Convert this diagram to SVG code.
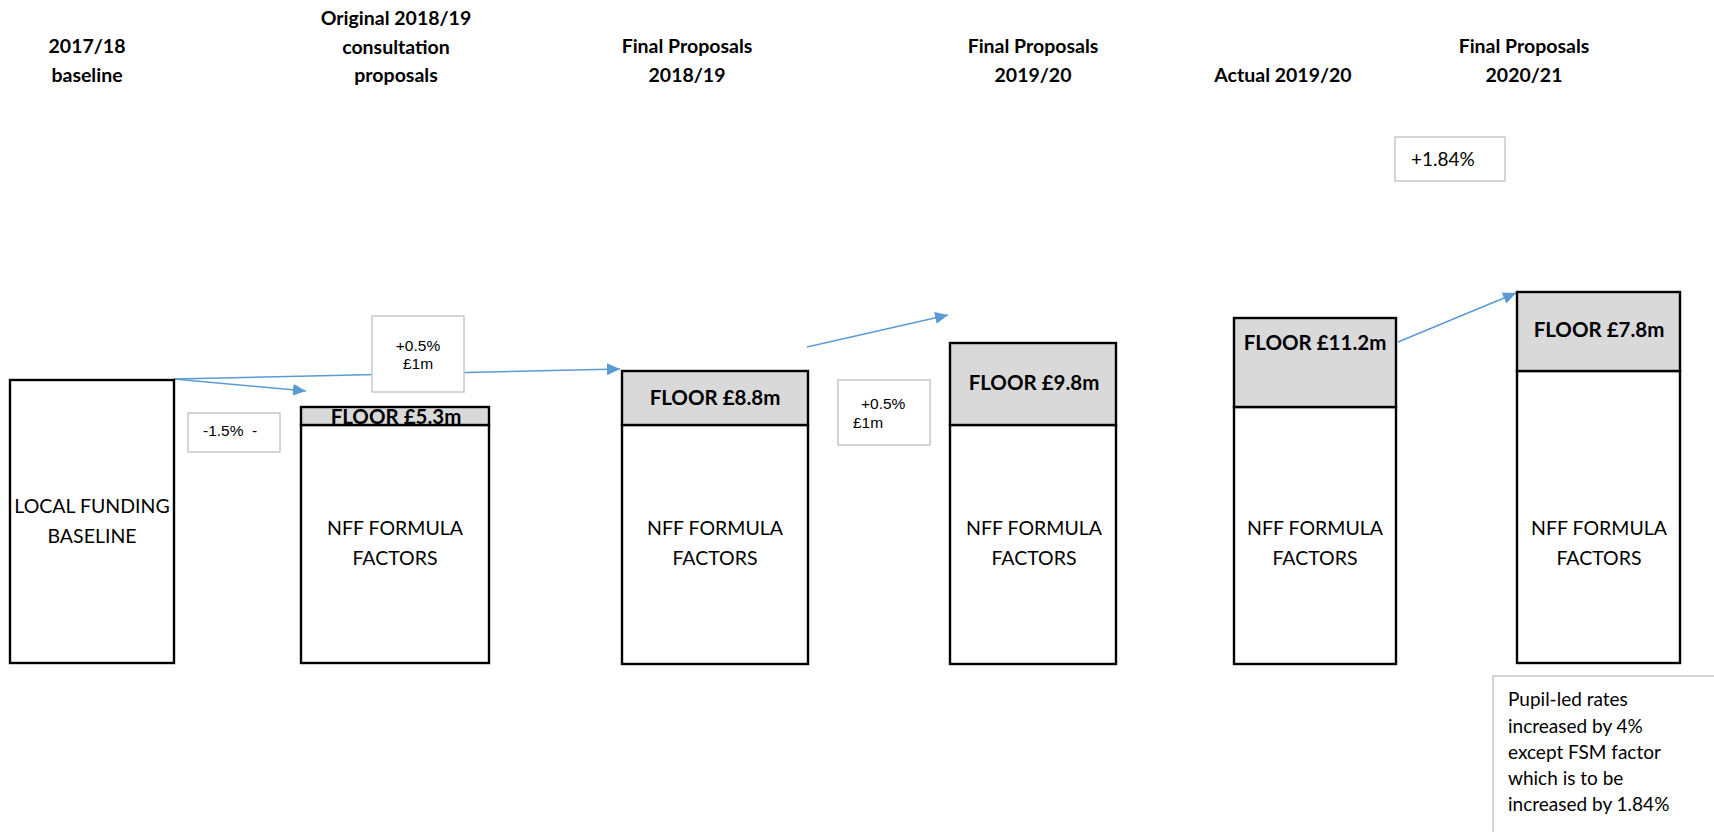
<svg xmlns="http://www.w3.org/2000/svg" width="1714" height="832" viewBox="0 0 1714 832">
<defs>
<marker id="arr" markerUnits="userSpaceOnUse" markerWidth="14" markerHeight="12" refX="13" refY="6" orient="auto"><path d="M0,0 L13,6 L0,12 z" fill="#5b9bd5"/></marker>
<style>
.hdr{font-family:Lato,"Liberation Sans",sans-serif;font-weight:bold;font-size:19.5px;fill:#000;text-anchor:middle}
.body{font-family:Lato,"Liberation Sans",sans-serif;font-size:19.5px;fill:#000;text-anchor:middle}
.floor{font-family:Lato,"Liberation Sans",sans-serif;font-weight:bold;font-size:20.5px;fill:#000;text-anchor:middle}
.lbl{font-family:"Liberation Sans",Arial,sans-serif;font-size:15.5px;fill:#000}
.bar{fill:#fff;stroke:#000;stroke-width:2.4}
.fl{fill:#d9d9d9;stroke:#000;stroke-width:2.4}
.lb{fill:#fff;stroke:#c8c8c8;stroke-width:1.5}
.con{stroke:#5b9bd5;stroke-width:1.5;fill:none}
.note{font-family:Lato,"Liberation Sans",sans-serif;font-size:19px;fill:#000}
</style>
</defs>
<rect width="1714" height="832" fill="#fff"/>
<g id="headers">
<text class="hdr" x="87" y="53">2017/18</text>
<text class="hdr" x="87" y="82">baseline</text>
<text class="hdr" x="396" y="25">Original 2018/19</text>
<text class="hdr" x="396" y="54">consultation</text>
<text class="hdr" x="396" y="82">proposals</text>
<text class="hdr" x="687" y="53">Final Proposals</text>
<text class="hdr" x="687" y="82">2018/19</text>
<text class="hdr" x="1033" y="53">Final Proposals</text>
<text class="hdr" x="1033" y="82">2019/20</text>
<text class="hdr" x="1283" y="82">Actual 2019/20</text>
<text class="hdr" x="1524" y="53">Final Proposals</text>
<text class="hdr" x="1524" y="82">2020/21</text>
</g>
<g id="connectors">
<line class="con" x1="174" y1="379" x2="306" y2="391" marker-end="url(#arr)"/>
<line class="con" x1="174" y1="379" x2="620" y2="369" marker-end="url(#arr)"/>
<line class="con" x1="807" y1="347" x2="948" y2="315" marker-end="url(#arr)"/>
<line class="con" x1="1398" y1="342" x2="1516" y2="293" marker-end="url(#arr)"/>
</g>
<g id="bar-baseline">
<rect class="bar" x="10" y="380" width="164" height="283"/>
<text class="body" x="92" y="513">LOCAL FUNDING</text>
<text class="body" x="92" y="543">BASELINE</text>
</g>
<g id="bar-consultation">
<rect class="bar" x="301" y="425" width="188" height="238"/>
<rect fill="#d9d9d9" x="301" y="407" width="188" height="18"/>
<text class="floor" x="396" y="424">FLOOR £5.3m</text>
<rect fill="none" stroke="#000" stroke-width="2.4" x="301" y="407" width="188" height="18"/>
<text class="body" x="395" y="535">NFF FORMULA</text>
<text class="body" x="395" y="565">FACTORS</text>
</g>
<g id="bar-final-1819">
<rect class="bar" x="622" y="425" width="186" height="239"/>
<rect class="fl" x="622" y="371" width="186" height="54"/>
<text class="floor" x="715" y="405">FLOOR £8.8m</text>
<text class="body" x="715" y="535">NFF FORMULA</text>
<text class="body" x="715" y="565">FACTORS</text>
</g>
<g id="bar-final-1920">
<rect class="bar" x="950" y="425" width="166" height="239"/>
<rect class="fl" x="950" y="343" width="166" height="82"/>
<text class="floor" x="1034" y="390">FLOOR £9.8m</text>
<text class="body" x="1034" y="535">NFF FORMULA</text>
<text class="body" x="1034" y="565">FACTORS</text>
</g>
<g id="bar-actual-1920">
<rect class="bar" x="1234" y="407" width="162" height="257"/>
<rect class="fl" x="1234" y="318" width="162" height="89"/>
<text class="floor" x="1315" y="350">FLOOR £11.2m</text>
<text class="body" x="1315" y="535">NFF FORMULA</text>
<text class="body" x="1315" y="565">FACTORS</text>
</g>
<g id="bar-final-2021">
<rect class="bar" x="1517" y="371" width="163" height="292"/>
<rect class="fl" x="1517" y="292" width="163" height="79"/>
<text class="floor" x="1599" y="337">FLOOR £7.8m</text>
<text class="body" x="1599" y="535">NFF FORMULA</text>
<text class="body" x="1599" y="565">FACTORS</text>
</g>
<g id="label-plus05-a">
<rect class="lb" x="372" y="316" width="92" height="76"/>
<text class="lbl" x="418" y="351" text-anchor="middle">+0.5%</text>
<text class="lbl" x="418" y="369" text-anchor="middle">£1m</text>
</g>
<g id="label-minus15">
<rect class="lb" x="188" y="413" width="92" height="39"/>
<text class="lbl" x="203" y="436" xml:space="preserve">-1.5%  -</text>
</g>
<g id="label-plus05-b">
<rect class="lb" x="838" y="380" width="92" height="65"/>
<text class="lbl" x="861" y="409">+0.5%</text>
<text class="lbl" x="853" y="428">£1m</text>
</g>
<g id="label-plus184">
<rect class="lb" x="1395" y="137" width="110" height="44"/>
<text class="note" x="1411" y="166">+1.84%</text>
</g>
<g id="note">
<rect class="lb" x="1493" y="676" width="240" height="200"/>
<text class="note" x="1508" y="706">Pupil-led rates</text>
<text class="note" x="1508" y="733">increased by 4%</text>
<text class="note" x="1508" y="759">except FSM factor</text>
<text class="note" x="1508" y="785">which is to be</text>
<text class="note" x="1508" y="811">increased by 1.84%</text>
</g>
</svg>
